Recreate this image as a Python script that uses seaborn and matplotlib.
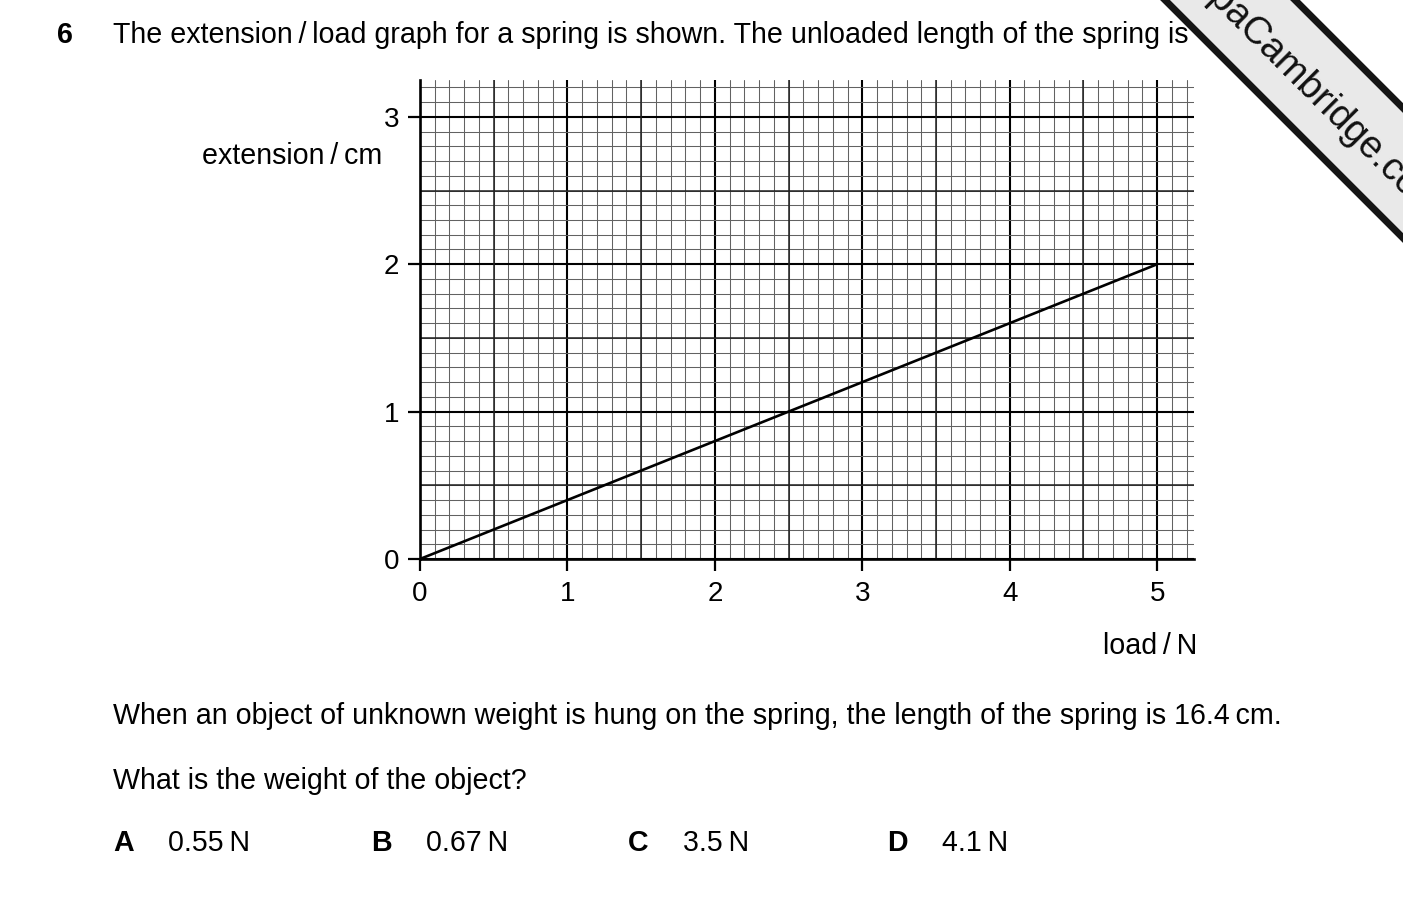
import numpy as np
import pandas as pd
import matplotlib
matplotlib.use('Agg')
import matplotlib.pyplot as plt
from matplotlib.ticker import MultipleLocator
from matplotlib.patches import Polygon
import seaborn as sns

# spring extension / load data
load_n = [0, 5]
extension_cm = [0, 2]
x_ticks = [0, 1, 2, 3, 4, 5]
y_ticks = [0, 1, 2, 3]
half_x = [0.5, 1.5, 2.5, 3.5, 4.5]
half_y = [0.5, 1.5, 2.5]
letters = ['A', 'B', 'C', 'D']
answers = ['0.55\u2009N', '0.67\u2009N', '3.5\u2009N', '4.1\u2009N']

sns.set_theme(style='ticks')
plt.rcParams['font.family'] = ['Liberation Sans', 'DejaVu Sans']
plt.rcParams['text.color'] = 'black'
plt.rcParams['axes.labelcolor'] = 'black'
plt.rcParams['xtick.color'] = 'black'
plt.rcParams['ytick.color'] = 'black'

df = pd.DataFrame({'load': load_n, 'extension': extension_cm})

W, H = 1403, 905
def fx(px):
    return px / W
def fy(py):
    return 1 - py / H

fs = 20.6
fig = plt.figure(figsize=(W / 100, H / 100), dpi=100)
ax = fig.add_axes([fx(420), fy(559), (1194 - 420) / W, (559 - 80) / H])
ax.set_xlim(0, 5.25)
ax.set_ylim(0, 3.25)

# graph paper grid
ax.xaxis.set_minor_locator(MultipleLocator(0.1))
ax.yaxis.set_minor_locator(MultipleLocator(0.1))
ax.set_axisbelow(True)
ax.grid(which='minor', color='#626262', lw=0.75)
ax.grid(which='major', color='black', lw=1.5)
for v in half_x:
    ax.axvline(v, color='#202020', lw=1.1, zorder=1)
for v in half_y:
    ax.axhline(v, color='#202020', lw=1.1, zorder=1)

sns.lineplot(data=df, x='load', y='extension', color='black', lw=1.9, ax=ax, zorder=3)

ax.set_xticks(x_ticks)
ax.set_yticks(y_ticks)
ax.tick_params(which='major', length=8.5, width=1.6, direction='out', labelsize=20, pad=7.5, color='black')
ax.tick_params(axis='y', which='major', pad=6.5)
ax.tick_params(which='minor', length=0)
sns.despine(ax=ax)
for s in ['left', 'bottom']:
    ax.spines[s].set_linewidth(1.9)
    ax.spines[s].set_color('black')

ax.set_xlabel('load\u2009/\u2009N', fontsize=fs, ha='right', va='center')
ax.xaxis.set_label_coords((1197 - 420) / 774, (559 - 646) / 479)
ax.set_ylabel('extension\u2009/\u2009cm', fontsize=fs, rotation=0, ha='right', va='center')
ax.yaxis.set_label_coords((382 - 420) / 774, (559 - 156) / 479)

# question text
fig.text(fx(57), fy(35), '6', fontsize=fs, fontweight='bold', va='center')
fig.text(fx(113), fy(35), 'The extension\u2009/\u2009load graph for a spring is shown. The unloaded length of the spring is',
         fontsize=fs, va='center')
fig.text(fx(113), fy(716), 'When an object of unknown weight is hung on the spring, the length of the spring is 16.4\u2009cm.',
         fontsize=fs, va='center')
fig.text(fx(113), fy(781), 'What is the weight of the object?', fontsize=fs, va='center')
letter_x = [113, 371, 628, 887]
for lx, let, ans in zip(letter_x, letters, answers):
    fig.text(fx(lx), fy(843), let, fontsize=fs, fontweight='bold', va='center')
    fig.text(fx(lx + 55), fy(843), ans, fontsize=fs, va='center')

# watermark banner across the top right corner
band_px = [(1065, -100), (1565, 400), (1695, 400), (1195, -100)]
band = Polygon([(fx(x), fy(y)) for x, y in band_px], closed=True, transform=fig.transFigure,
               fc='#e9e9e9', ec='#151515', lw=5, zorder=10)
fig.add_artist(band)
fig.text(fx(1276), fy(54), 'www.PapaCambridge.com', rotation=-45, rotation_mode='anchor',
         ha='center', va='center', fontsize=27.5, color='#111111', zorder=11)

fig.savefig('out.png', dpi=100)
